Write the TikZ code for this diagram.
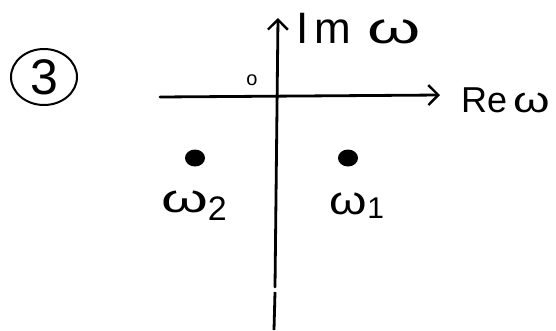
\documentclass[tikz,border=0pt]{standalone}
\usepackage{fontspec}
\usepackage{graphicx}
\setmainfont{Liberation Sans}
\usetikzlibrary{arrows.meta,shapes.geometric}
\newcommand{\wideom}[1][1.4]{\scalebox{#1}[1]{ω}}
\begin{document}
\begin{tikzpicture}[x=1pt,y=-1pt,
  axis/.style={line width=2.8pt,line cap=round,-{Straight Barb[length=10pt,width=20pt,line width=2.4pt]}},
  lbl/.style={font=\fontsize{40}{44}\selectfont,inner sep=0pt},
  pole/.style={fill=black,ellipse,minimum width=20pt,minimum height=17pt,inner sep=0pt}]
\useasboundingbox (0,0) rectangle (556,330);
\fill[white] (0,0) rectangle (556,330);
% circled number
\node[draw,line width=2pt,ellipse,minimum width=66pt,minimum height=56pt,inner sep=0pt,
      font=\fontsize{50}{54}\selectfont] (num) at (44,77) {3};
% axes
\coordinate (xl) at (160,97);
\coordinate (xr) at (440,95);
\coordinate (yb) at (274,330);
\coordinate (yg1) at (275,292);
\coordinate (yg2) at (275,287);
\coordinate (yt) at (278,18);
\draw[axis] (xl) -- (xr);
\draw[line width=2.8pt] (yb) -- (yg1);
\draw[axis] (yg2) -- (yt);
% origin mark
\node[inner sep=0pt,font=\fontsize{20}{22}\selectfont] (orig) at (252,80) {o};
% axis labels
\node[lbl,anchor=base west,font=\fontsize{44}{48}\selectfont] (im) at (296,43) {I\kern6pt m\kern16pt\wideom[1.55]};
\node[lbl,anchor=base west,font=\fontsize{36}{40}\selectfont] (re) at (461,112) {Re\kern6pt\wideom[1.3]};
% poles
\node[pole] (p2) at (195,158) {};
\node[pole] (p1) at (348,158) {};
\node[lbl,anchor=base] (w2) at (194,212) {\wideom[1.5]\raisebox{-8pt}{\fontsize{34}{36}\selectfont 2}};
\node[lbl,anchor=base] (w1) at (357,214) {\wideom[1.2]\raisebox{-4pt}{\fontsize{30}{32}\selectfont 1}};
\end{tikzpicture}
\end{document}
